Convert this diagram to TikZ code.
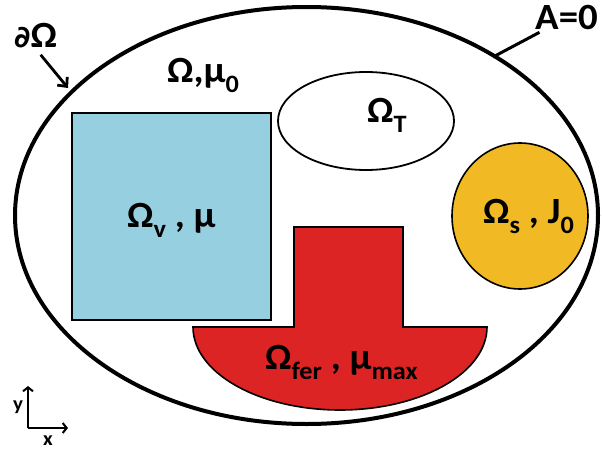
\documentclass[tikz,border=0pt]{standalone}
\usepackage{fontspec}
\setmainfont{Carlito}[FakeStretch=1.05]
\newfontfamily\symfont{DejaVu Sans}
\usetikzlibrary{arrows.meta}
\definecolor{vacblue}{RGB}{150,207,224}
\definecolor{ferred}{RGB}{221,36,36}
\definecolor{coilgold}{RGB}{241,186,36}
\newcommand{\idx}[1]{\raisebox{-0.28em}{\fontsize{25}{25}\selectfont #1}}

\begin{document}
\begin{tikzpicture}[x=1pt,y=-1pt,>={Straight Barb[length=7pt,width=13pt]},
    every node/.style={font=\fontsize{37}{37}\selectfont\bfseries,inner sep=0pt,anchor=base west},
    axlbl/.style={font=\fontsize{20}{20}\selectfont\bfseries,anchor=center}]
  \useasboundingbox (0,0) rectangle (602,452);
  % regions
  \draw[line width=4pt] (306.5,215.5) ellipse [x radius=291.5pt,y radius=208.5pt];
  \draw[line width=1.6pt,fill=vacblue] (72,113) rectangle (271,320);
  \draw[line width=1.8pt] (366,121) ellipse [x radius=88pt,y radius=49pt];
  \draw[line width=1.6pt,fill=coilgold] (520,216) ellipse [x radius=68pt,y radius=73pt];
  \draw[line width=1.6pt,fill=ferred] (294,227) -- (403,227) -- (403,327) -- (487,327)
    arc[start angle=0,end angle=-180,x radius=147pt,y radius=83pt] -- (294,327) -- cycle;
  % labels
  \node (dom) at (167,82) {Ω,μ\idx{0}};
  \node (dlab) at (14,48) {{\symfont\fontsize{30}{30}\selectfont ∂}Ω};
  \node (alab) at (535,30) {A=0};
  \node (vlab) at (127,227) {Ω\idx{v} , μ};
  \node (tlab) at (367,122) {Ω\idx{T}};
  \node (slab) at (483,223) {Ω\idx{s} , J\idx{0}};
  \node (flab) at (265,369) {Ω\idx{fer} , μ\idx{max}};
  % boundary marks
  \coordinate (dtip) at (68,88);
  \coordinate (aend) at (493,57);
  \draw[->,line width=2.8pt,shorten <=8pt] (dlab.south) -- (dtip);
  \draw[line width=3pt,shorten <=4pt] (alab) -- (aend);
  % axes
  \coordinate (org) at (28,428);
  \coordinate (yend) at (28,386);
  \coordinate (xend) at (68,428);
  \draw[->,line width=2pt,>={Straight Barb[length=4pt,width=10pt]}] (org) -- (yend);
  \draw[->,line width=2pt,>={Straight Barb[length=4pt,width=10pt]}] (org) -- (xend);
  \node[axlbl] (ylab) at (18,407) {y};
  \node[axlbl] (xlab) at (48,441) {x};
\end{tikzpicture}
\end{document}
